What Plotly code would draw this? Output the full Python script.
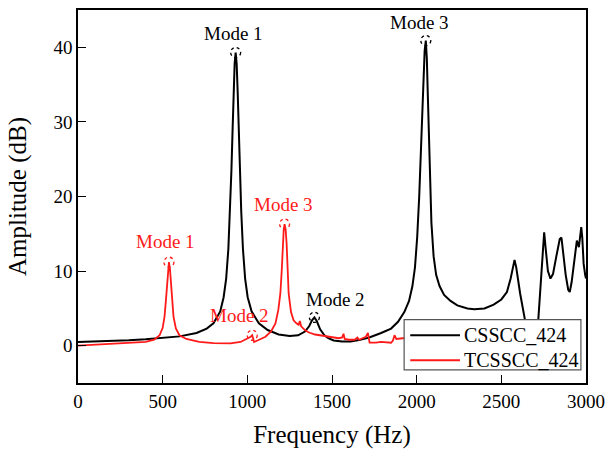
import plotly.graph_objects as go

# Frequency response, CSSCC_424 (black)
freq_cs = [0, 100, 200, 300, 400, 500, 600, 700, 760, 800, 840, 860, 875, 888, 898,
           906, 913, 919, 925, 931, 937, 943, 949, 956, 964, 974, 987, 1002, 1025,
           1068, 1120, 1185, 1250, 1300, 1340, 1365, 1382, 1396, 1410, 1430, 1455,
           1478, 1510, 1560, 1610, 1660, 1720, 1790, 1849, 1890, 1927, 1955, 1975,
           1990, 2003, 2015, 2025, 2033, 2040, 2047, 2054, 2060, 2066, 2072, 2079,
           2087, 2100, 2115, 2135, 2162, 2200, 2240, 2300, 2340, 2400, 2455, 2500,
           2533, 2555, 2570, 2578, 2588, 2600, 2611, 2640, 2665, 2685, 2700, 2718,
           2735, 2746, 2753, 2762, 2775, 2790, 2805, 2825, 2845, 2855, 2865, 2880,
           2895, 2904, 2915, 2930, 2946, 2958, 2966, 2972, 2978, 2986, 2995, 3000]
amp_cs = [0.5, 0.55, 0.62, 0.72, 0.85, 1.0, 1.25, 1.7, 2.3, 3.0, 4.6, 6.5, 9.0, 13.0, 18.0,
          23.5, 29.0, 34.0, 37.8, 39.3, 37.8, 34.0, 29.0, 23.5, 18.0, 13.0, 9.0, 6.5, 4.6,
          3.0, 2.1, 1.5, 1.3, 1.4, 1.9, 2.6, 3.4, 3.8, 3.3, 2.2, 1.4,
          1.0, 0.7, 0.55, 0.55, 0.75, 1.1, 1.7, 2.3, 3.2, 4.5, 6.0, 8.0,
          10.5, 14.5, 20.0, 26.0, 31.0, 35.5, 39.5, 40.9, 38.5, 33.5, 27.5, 21.5,
          16.5, 12.0, 9.5, 8.0, 6.8, 6.0, 5.4, 5.0, 4.9, 5.0, 5.5, 6.2,
          7.2, 9.0, 10.8, 11.5, 10.5, 8.5, 7.0, 3.4, 0.5, -0.5, 0.5, 3.4,
          9.0, 13.5, 15.2, 13.0, 10.0, 9.0, 9.6, 12.0, 14.3, 14.5, 12.5, 9.5,
          7.5, 7.2, 8.5, 11.5, 14.1, 13.2, 14.8, 15.9, 14.5, 11.0, 9.5, 9.0]

# Frequency response, TCSSCC_424 (red)
freq_tc = [0, 100, 200, 300, 400, 450, 482, 500, 511, 519, 525, 531, 537, 543, 550,
           557, 564, 578, 599, 640, 716, 800, 900, 960, 1000, 1020, 1029, 1035, 1040,
           1050, 1080, 1107, 1140, 1166, 1183, 1195, 1203, 1209, 1215, 1220, 1226,
           1232, 1238, 1244, 1258, 1273, 1290, 1303, 1310, 1318, 1340, 1361, 1400,
           1450, 1498, 1540, 1560, 1568, 1575, 1600, 1634, 1650, 1660, 1700, 1712,
           1718, 1722, 1760, 1790, 1849, 1860, 1869, 1880, 1917, 1930]
amp_tc = [0.0, 0.1, 0.2, 0.3, 0.5, 0.8, 1.4, 2.4, 3.9, 6.0, 8.3, 10.3, 11.2, 10.3, 8.3,
          5.8, 3.9, 2.3, 1.4, 0.9, 0.5, 0.35, 0.3, 0.5, 0.9, 1.2, 1.4, 0.8, 0.5,
          0.6, 0.9, 1.2, 1.9, 3.0, 4.8, 7.0, 10.0, 13.7, 15.6, 16.3, 15.6,
          13.7, 10.0, 7.0, 4.5, 3.4, 3.0, 2.8, 3.3, 2.6, 2.1, 1.8, 1.5,
          1.3, 1.2, 1.0, 1.1, 1.6, 0.9, 0.8, 0.8, 1.1, 0.8, 1.2, 1.7,
          0.8, 0.4, 0.4, 0.5, 0.4, 0.7, 1.4, 0.9, 1.0, 1.0]

# Marked modes
mode_cs_freq = [931, 1396, 2054]
mode_cs_amp = [39.3, 3.8, 40.9]
mode_cs_text = ["Mode 1", "Mode 2", "Mode 3"]
mode_tc_freq = [537, 1029, 1220]
mode_tc_amp = [11.2, 1.4, 16.3]
mode_tc_text = ["Mode 1", "Mode 2", "Mode 3"]

series_names = ["CSSCC_424", "TCSSCC_424"]

x_ticks = [0, 500, 1000, 1500, 2000, 2500, 3000]
y_ticks = [0, 10, 20, 30, 40]

BLACK = "#000000"
RED = "#ff1a1a"
FONT = "Times New Roman, Liberation Serif, serif"

fig = go.Figure()
fig.add_trace(go.Scatter(x=freq_cs, y=amp_cs, mode="lines", name=series_names[0],
                         line=dict(color=BLACK, width=2)))
fig.add_trace(go.Scatter(x=freq_tc, y=amp_tc, mode="lines", name=series_names[1],
                         line=dict(color=RED, width=1.8)))

# label offsets from each marked peak, in px
cs_offsets = [(-2, 19), (21, 18), (-6, 18)]
tc_offsets = [(-3, 21), (-13, 20), (-1, 20)]

shapes = []
annotations = []
for freqs, amps, texts, offs, col in [
    (mode_cs_freq, mode_cs_amp, mode_cs_text, cs_offsets, BLACK),
    (mode_tc_freq, mode_tc_amp, mode_tc_text, tc_offsets, RED),
]:
    for f, a, t, (dx, dy) in zip(freqs, amps, texts, offs):
        shapes.append(dict(type="circle", xref="x", yref="y",
                           xsizemode="pixel", ysizemode="pixel",
                           xanchor=f, yanchor=a, x0=-5, x1=5, y0=-5, y1=5,
                           line=dict(color=col, width=1.3, dash="dot")))
        annotations.append(dict(x=f, y=a, xref="x", yref="y", text=t,
                                showarrow=False, xshift=dx, yshift=dy,
                                xanchor="center", yanchor="middle",
                                font=dict(family=FONT, size=19, color=col)))

# Compact boxed legend in the lower-right corner of the axes
box_x0, box_x1, box_y0, box_y1 = 0.642, 0.990, 0.035, 0.170
shapes.append(dict(type="rect", xref="paper", yref="paper",
                   x0=box_x0, x1=box_x1, y0=box_y0, y1=box_y1,
                   fillcolor="white", line=dict(color="#555555", width=1.2),
                   layer="above"))
row_y = [0.128, 0.061]
for name, col, yy in zip(series_names, [BLACK, RED], row_y):
    shapes.append(dict(type="line", xref="paper", yref="paper",
                       x0=0.654, x1=0.752, y0=yy, y1=yy,
                       line=dict(color=col, width=2), layer="above"))
    annotations.append(dict(x=0.755, y=yy, xref="paper", yref="paper", text=name,
                            showarrow=False, xanchor="left", yanchor="middle",
                            font=dict(family=FONT, size=20, color="black")))

fig.update_layout(
    width=613, height=456,
    margin=dict(l=78, r=23, t=8, b=73),
    paper_bgcolor="white", plot_bgcolor="white",
    font=dict(family=FONT, size=19, color="black"),
    shapes=shapes, annotations=annotations,
    showlegend=False,
)
fig.update_xaxes(range=[0, 3000], tickvals=x_ticks, ticks="inside", ticklen=8,
                 tickwidth=1.3, tickcolor="black", showline=True, linecolor="black",
                 linewidth=1.5, mirror=True, showgrid=False, zeroline=False,
                 title=dict(text="Frequency (Hz)", font=dict(family=FONT, size=25), standoff=15),
                 tickfont=dict(family=FONT, size=19))
fig.update_yaxes(range=[-5, 45], tickvals=y_ticks, ticks="inside", ticklen=8,
                 tickwidth=1.3, tickcolor="black", showline=True, linecolor="black",
                 linewidth=1.5, mirror=True, showgrid=False, zeroline=False,
                 title=dict(text="Amplitude (dB)", font=dict(family=FONT, size=25), standoff=20),
                 tickfont=dict(family=FONT, size=19))

fig.write_html("out.html")
